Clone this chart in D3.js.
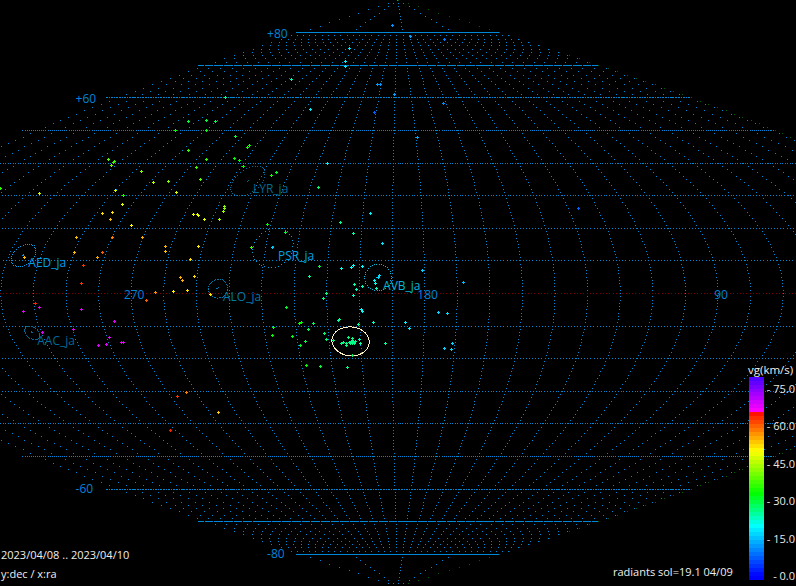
<!DOCTYPE html>
<html><head><meta charset="utf-8">
<script src="https://cdn.jsdelivr.net/npm/d3@7/dist/d3.min.js"></script>
<style>html,body{margin:0;padding:0;background:#000;overflow:hidden}svg{display:block}text{font-family:"Open Sans",sans-serif}</style>
</head><body><svg id="c" width="796" height="586"></svg>
<script>
const centerRa=188.16;
const meteorRa=[200.6,246.2,238.1,234.4,267.3,202.6,200.5,190.4,294.4,236.7,200.9,168.4,120.1,161.6,179.3,126.5,
294.4,286.0,280.7,294.4,279.6,262.9,253.0,253.2,277.3,306.0,302.5,302.4,301.7,266.1,255.0,252.4,249.1,216.4,234.9,236.3,217.1,287.3,267.3,262.1,273.5,278.7,267.4,289.9,316.0,285.4,332.3,
283.3,284.7,287.8,283.8,275.7,291.4,279.8,270.2,257.0,255.6,255.1,252.5,247.5,247.3,247.4,247.7,231.1,224.6,289.8,281.0,282.1,261.8,261.3,251.4,252.9,285.7,285.4,255.1,254.4,250.8,262.5,265.4,257.0,252.7,245.7,234.5,304.9,299.5,
303.6,298.4,285.6,276.1,289.6,279.2,283.7,281.0,276.0,275.4,299.6,
207.2,197.4,202.6,193.1,227.9,212.5,205.7,202.0,202.6,199.2,215.4,180.6,168.0,193.9,194.2,195.4,195.1,201.5,199.1,200.9,194.8,210.1,201.8,211.0,222.5,199.4,199.1,175.7,172.9,206.3,206.6,195.8,185.8,200.5,218.2,218.8,214.4,227.0,216.1,184.6,211.2,227.7,221.4,210.8,217.5,219.3,170.8,173.3,171.0,192.2,
203.8,200.3,200.1,208.6,206.1,205.5,204.5,204.6,202.6,202.0,203.3,202.6,202.9,202.3,202.6,203.6,201.7,202.9,218.5,213.9,205.0,267.6,263.4,256.7,282.1];
const meteorDec=[82.2,75.15,71.17,69.63,65.64,64.11,64.11,61.04,60.12,56.44,55.52,78.83,77.91,58.28,47.85,26.07,
52.76,53.07,52.76,50.0,50.0,48.16,45.4,44.79,43.87,41.1,40.49,40.18,39.26,41.1,41.41,40.8,38.96,39.88,37.12,36.2,32.52,37.42,38.65,34.97,34.36,34.05,30.98,31.6,30.67,30.06,32.21,
27.3,24.85,24.54,22.7,20.86,17.18,17.18,17.18,24.23,24.23,23.93,22.7,22.7,25.15,26.07,26.69,21.17,18.71,12.58,12.58,11.04,14.42,12.88,14.42,10.43,8.59,3.07,4.91,3.99,5.21,0.31,-2.15,0.61,0.92,-0.31,14.11,11.04,-3.07,
-5.52,-4.29,-4.91,-8.59,-11.04,-13.5,-15.95,-15.64,-15.03,-15.03,-11.96,
21.78,24.54,18.4,15.34,14.11,8.28,7.67,8.59,7.98,8.28,5.21,7.06,3.37,5.52,4.91,3.99,3.07,2.76,2.15,1.23,1.53,0,-0.61,-1.53,-4.29,-4.91,-5.52,-5.83,-6.13,-7.98,-8.28,-8.9,-8.9,-9.51,-8.9,-9.2,-9.2,-10.43,-11.04,-10.74,-12.27,-12.88,-13.19,-14.11,-14.72,-15.95,-15.34,-16.87,-17.18,-15.34,
-13.5,-14.11,-15.34,-14.42,-15.34,-15.03,-15.34,-15.95,-15.34,-15.34,-15.34,-14.42,-14.72,-14.72,-13.8,-15.03,-14.72,-19.02,-22.09,-22.39,-22.7,-31.6,-30.37,-36.5,-42.02];
const meteorVg=[12,18,19,19,24,12,12,13,26,19,8,13,10,11,13,8,
30,30,29,32,32,31,34,34,37,39,37,37,40,36,33,33,33,19,31,34,27,41,37,39,42,45,47,47,47,34,36,
49,52,52,54,50,54,58,55,49,49,49,49,44,43,42,42,33,31,54,60,56,55,54,51,52,63,63,55,55,52,57,60,51,52,51,37,54,64,
68,68,68,68,68,68,68,68,68,68,68,
25,19,25,18,16,30,21,20,20,20,25,17,14,17,17,20,21,24,23,23,23,26,23,26,31,20,20,17,17,25,25,23,19,25,33,33,29,34,29,19,27,33,32,28,30,32,17,17,17,25,
26,23,24,27,27,26,26,26,26,26,26,26,26,26,26,26,26,28,33,30,27,63,58,53,64];
const radiantNames=["AED_ja","AAC_ja","ALO_ja","PSR_ja","LYR_ja","AVB_ja"];
const radiantRa=[305.5,302.9,243.4,227.7,244,194.3];
const radiantDec=[11.66,-12.1,1.5,14,34.5,4.9];
const radiantR=[3.5,2.1,2.9,6.1,4.6,4.1];
const radiantColors=["#009ce8","#006a98","#0078a8","#00a0e0","#006a90","#00b8d8"];
const ellipseRa=203.2,ellipseDec=-14.7,ellipseA=5.9,ellipseB=4.45;
const decTicks=[80,60,-60,-80];
const raTicks=[270,180,90];
const legendTicks=[0,15,30,45,60,75];
const svg=d3.select("#c");
svg.append("rect").attr("width",796).attr("height",586).attr("fill","#000");
const raw=(l,p)=>[l*Math.cos(p),p];
const proj=d3.geoProjection(raw).scale(3.26*180/Math.PI).translate([398,293.5]).reflectX(true).rotate([-centerRa,0]);
function dots(pts,color){
  let s="";
  pts.forEach(p=>{const q=proj(p);s+=`M${Math.floor(q[0])} ${Math.floor(q[1])}h1v1h-1z`;});
  svg.append("path").attr("d",s).attr("fill",color).attr("shape-rendering","crispEdges");
}
const grid=[];const eq=[];const edge=[];
d3.range(-80,81,10).forEach(dec=>{
  d3.range(centerRa-180,centerRa+180,1).forEach(ra=>{(dec===0?eq:grid).push([ra,dec]);});
});
d3.range(10,361,10).forEach(ra=>d3.range(-80,81,1).forEach(dec=>grid.push([ra,dec])));
[180,270,360,90].forEach(ra=>{d3.range(-90,-79,1).forEach(dec=>grid.push([ra,dec]));d3.range(80,91,1).forEach(dec=>grid.push([ra,dec]));});
d3.range(-90,91,1).forEach(dec=>edge.push([centerRa-179.99,dec]));
dots(grid,"#0088d8");dots(eq,"#800000");dots(edge,"#006000");
// radiants
radiantNames.forEach((n,i)=>{
  const c=d3.geoCircle().center([radiantRa[i],radiantDec[i]]).radius(radiantR[i]).precision(10)();
  dots(c.coordinates[0],radiantColors[i]);
  dots([[radiantRa[i],radiantDec[i]],[radiantRa[i]+.35,radiantDec[i]],[radiantRa[i],radiantDec[i]+.3]],radiantColors[i]);
  const p=proj([radiantRa[i],radiantDec[i]]);
  svg.append("text").attr("x",p[0]+5).attr("y",p[1]+12).attr("fill",radiantColors[i]).attr("font-size",12).text(n);
});
// big ellipse
const ell=d3.range(0,361,2).map(t=>proj([ellipseRa+ellipseA*Math.cos(t*Math.PI/180),ellipseDec+ellipseB*Math.sin(t*Math.PI/180)]));
svg.append("path").attr("d",d3.line()(ell)).attr("fill","none").attr("stroke","#fff0c4").attr("stroke-width",1).attr("shape-rendering","crispEdges");
decTicks.forEach(d=>{
  const half=3.26*180*Math.cos(d*Math.PI/180);
  const y=proj([centerRa,d])[1];
  svg.append("text").attr("x",398-half-29).attr("y",y+(d>0?5.5:4)).attr("fill","#0084dc").attr("font-size",12).text((d>0?"+":"")+d);
});
raTicks.forEach(r=>{const p=proj([r,0]);svg.append("text").attr("x",p[0]+3).attr("y",p[1]+5).attr("text-anchor","middle").attr("fill","#0084dc").attr("font-size",12).text(r);});
// legend
const yL=d3.scaleLinear().domain([0,75]).range([576,389]);
const col=d3.scaleLinear().domain([0,20,33,50,66]).range(["#0000ff","#00ffff","#00ff00","#ffff00","#ff0000"]);
const col2=d3.scaleLinear().domain([66,79]).range(["#ff00ff","#5000ff"]);
const vgColor=v=>v>66?col2(v):col(v);
d3.range(-1.6,79,1.6).forEach(v=>{
 svg.append("rect").attr("x",749).attr("width",15).attr("y",Math.round(yL(v+1.6))).attr("height",Math.round(yL(v))-Math.round(yL(v+1.6))).attr("fill",vgColor(v+.8)).attr("shape-rendering","crispEdges");
});
legendTicks.forEach(v=>{
 svg.append("text").attr("x",795).attr("y",yL(v)+4).attr("text-anchor","end").attr("fill","#e8e8e8").attr("font-size",11).text("- "+v.toFixed(1));
});
svg.append("text").attr("x",748).attr("y",374).attr("fill","#eee").attr("font-size",11.5).text("vg(km/s)");
svg.append("text").attr("x",1).attr("y",559).attr("fill","#eee").attr("font-size",11).text("2023/04/08 .. 2023/04/10");
svg.append("text").attr("x",1).attr("y",578).attr("fill","#eee").attr("font-size",11).text("y:dec / x:ra");
svg.append("text").attr("x",613).attr("y",576).attr("fill","#eee").attr("font-size",11).text("radiants sol=19.1 04/09");
// meteors
svg.append("g").attr("shape-rendering","crispEdges").selectAll("path").data(meteorRa.map((r,i)=>i)).join("path")
 .attr("d",i=>{const q=proj([meteorRa[i],meteorDec[i]]);const x=Math.floor(q[0]),y=Math.floor(q[1]);return `M${x-1} ${y}h3v1h-3zM${x} ${y-1}h1v3h-1z`;})
 .attr("fill",i=>vgColor(meteorVg[i]));
</script></body></html>
